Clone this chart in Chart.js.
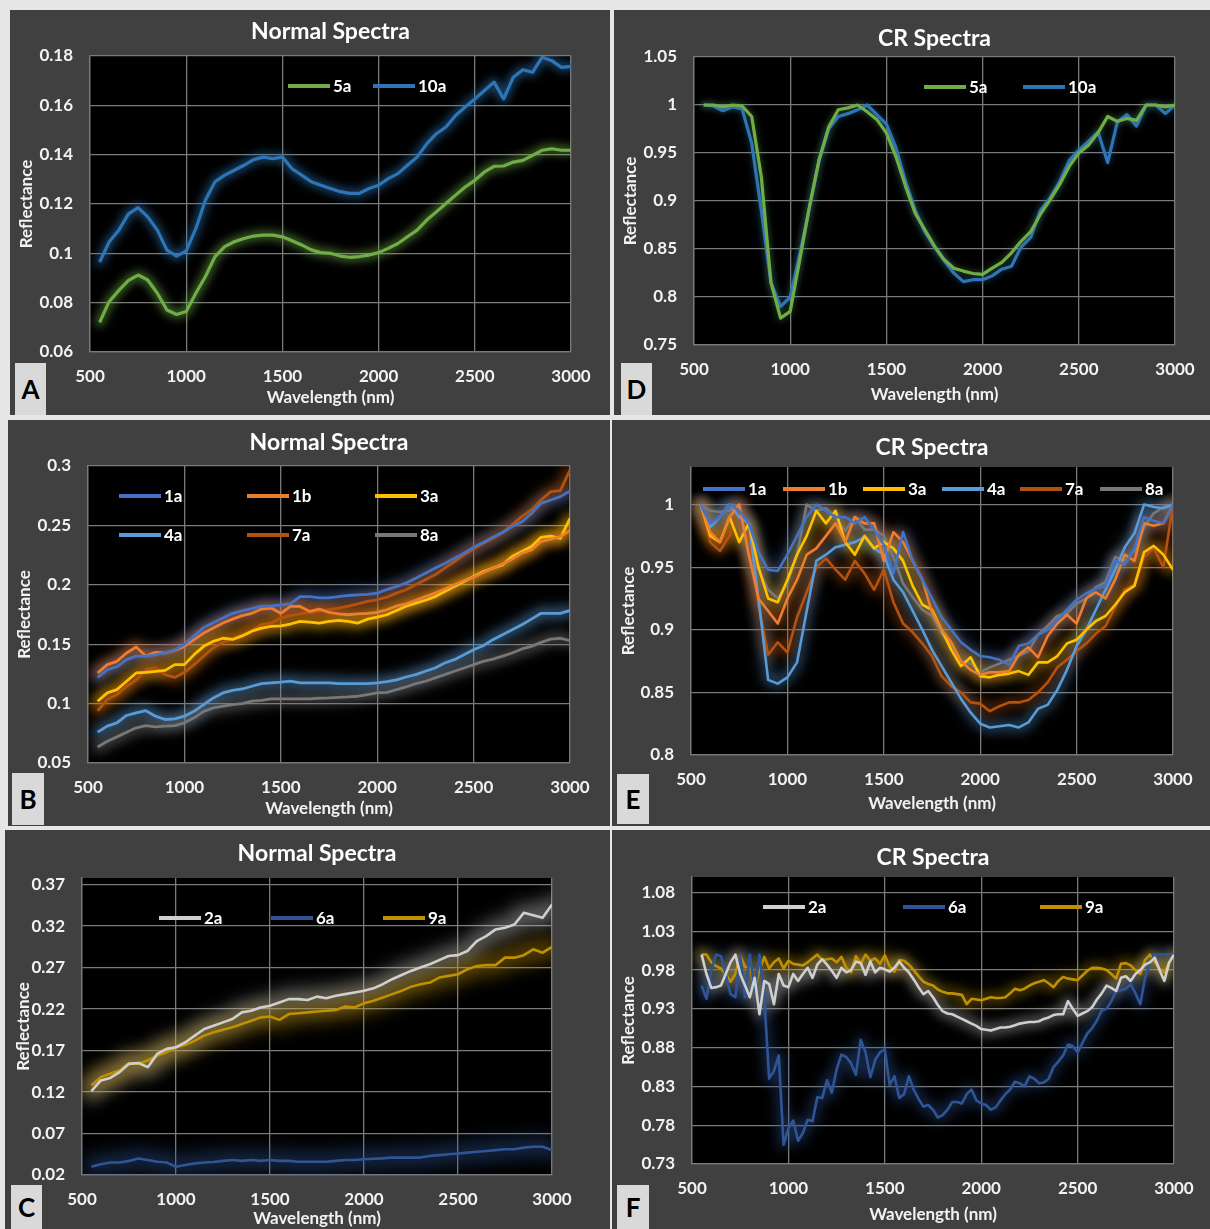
<!DOCTYPE html>
<html><head><meta charset="utf-8">
<script src="https://cdn.jsdelivr.net/npm/chart.js@4/dist/chart.umd.min.js"></script>
<style>
html,body{margin:0;padding:0;background:#e6e6e6;}
body{width:1210px;height:1229px;position:relative;overflow:hidden;}
.panel{position:absolute;background:#404040;}
.panel canvas{position:absolute;left:0;top:0;}
.tag{position:absolute;background:#d9d9d9;color:#000;font:bold 26px Lato,'Open Sans',sans-serif;display:flex;align-items:center;justify-content:center;}
</style></head><body>
<div class="panel" style="left:10px;top:10px;width:600px;height:405px"><canvas id="cA" width="600" height="405"></canvas></div>
<div class="panel" style="left:614px;top:10px;width:596px;height:405px"><canvas id="cD" width="596" height="405"></canvas></div>
<div class="panel" style="left:8px;top:420px;width:602px;height:406px"><canvas id="cB" width="602" height="406"></canvas></div>
<div class="panel" style="left:612px;top:420px;width:598px;height:406px"><canvas id="cE" width="598" height="406"></canvas></div>
<div class="panel" style="left:5px;top:830px;width:605px;height:399px"><canvas id="cC" width="605" height="399"></canvas></div>
<div class="panel" style="left:612px;top:830px;width:598px;height:399px"><canvas id="cF" width="598" height="399"></canvas></div>
<div class="tag" style="left:15px;top:363px;width:31px;height:52px">A</div>
<div class="tag" style="left:621px;top:363px;width:31px;height:52px">D</div>
<div class="tag" style="left:12px;top:773px;width:32px;height:52px">B</div>
<div class="tag" style="left:617px;top:774px;width:32px;height:50px">E</div>
<div class="tag" style="left:11px;top:1185px;width:31px;height:44px">C</div>
<div class="tag" style="left:617px;top:1185px;width:32px;height:44px">F</div>
<script>
// ---------- DATA ----------
const wl50 = [550,600,650,700,750,800,850,900,950,1000,
  1050,1100,1150,1200,1250,1300,1350,1400,1450,1500,
  1550,1600,1650,1700,1750,1800,1850,1900,1950,2000,
  2050,2100,2150,2200,2250,2300,2350,2400,2450,2500,
  2550,2600,2650,2700,2750,2800,2850,2900,2950,3000];
const wl25 = [550,575,600,625,650,675,700,725,750,775,
  800,825,850,875,900,925,950,975,1000,1025,
  1050,1075,1100,1125,1150,1175,1200,1225,1250,1275,
  1300,1325,1350,1375,1400,1425,1450,1475,1500,1525,
  1550,1575,1600,1625,1650,1675,1700,1725,1750,1775,
  1800,1825,1850,1875,1900,1925,1950,1975,2000,2025,
  2050,2075,2100,2125,2150,2175,2200,2225,2250,2275,
  2300,2325,2350,2375,2400,2425,2450,2475,2500,2525,
  2550,2575,2600,2625,2650,2675,2700,2725,2750,2775,
  2800,2825,2850,2875,2900,2925,2950,2975,3000];
const xTicks = [500,1000,1500,2000,2500,3000];
const yTicksA = [0.06,0.08,0.10,0.12,0.14,0.16,0.18];
const yTicksD = [0.75,0.80,0.85,0.90,0.95,1.00,1.05];
const yTicksB = [0.05,0.10,0.15,0.20,0.25,0.30];
const yTicksE = [0.80,0.85,0.90,0.95,1.00];
const yTicksC = [0.02,0.07,0.12,0.17,0.22,0.27,0.32,0.37];
const yTicksF = [0.73,0.78,0.83,0.88,0.93,0.98,1.03,1.08];

// Panel A (Normal) / D (CR): 5a, 10a
const A_5a = [0.072,0.0805,0.085,0.089,0.0912,0.0892,0.0838,0.077,0.0752,0.0764,
  0.0838,0.0906,0.0987,0.1027,0.1047,0.106,0.107,0.1074,0.1074,0.1067,
  0.1051,0.1034,0.1014,0.1003,0.100,0.0989,0.0984,0.0987,0.0993,0.1003,
  0.102,0.104,0.1067,0.1094,0.1135,0.1168,0.1202,0.1236,0.1269,0.1296,
  0.133,0.1353,0.1354,0.137,0.1377,0.1397,0.1418,0.1424,0.1418,0.1418];
const A_10a = [0.0965,0.1047,0.1094,0.116,0.1185,0.1148,0.1094,0.1013,0.0989,0.101,
  0.110,0.1216,0.129,0.1317,0.1337,0.1357,0.138,0.139,0.1384,0.139,
  0.1343,0.1317,0.129,0.1276,0.1263,0.125,0.1243,0.1243,0.1263,0.1276,
  0.1303,0.1323,0.1357,0.139,0.1444,0.1485,0.1512,0.1559,0.1593,0.1626,
  0.166,0.1694,0.1626,0.1714,0.1744,0.1734,0.1795,0.1781,0.1754,0.1758];
const D_5a = [1.0,1.0,0.998,1.0,0.999,0.988,0.925,0.815,0.778,0.785,
  0.839,0.894,0.943,0.977,0.995,0.997,1.0,0.993,0.985,0.971,
  0.946,0.915,0.887,0.870,0.853,0.839,0.830,0.827,0.8245,0.8235,
  0.830,0.836,0.846,0.858,0.868,0.886,0.901,0.917,0.936,0.950,
  0.958,0.971,0.988,0.983,0.986,0.984,1.0,1.0,0.998,1.0];
const D_10a = [1.0,0.999,0.994,0.998,0.996,0.96,0.89,0.815,0.79,0.80,
  0.845,0.893,0.942,0.975,0.988,0.991,0.995,1.0,0.99,0.98,
  0.955,0.92,0.89,0.868,0.852,0.838,0.825,0.816,0.818,0.818,
  0.822,0.829,0.832,0.852,0.862,0.89,0.903,0.92,0.942,0.953,
  0.962,0.972,0.94,0.982,0.99,0.978,1.0,1.0,0.991,1.0];

// Panel B (Normal) / E (CR): 1a, 1b, 3a, 4a, 7a, 8a
const B_1a = [0.122,0.1286,0.131,0.137,0.140,0.140,0.141,0.143,0.145,0.150,
  0.157,0.164,0.168,0.172,0.176,0.178,0.180,0.182,0.182,0.183,
  0.184,0.190,0.190,0.189,0.189,0.190,0.191,0.1915,0.192,0.193,
  0.196,0.1985,0.2015,0.2056,0.2098,0.214,0.218,0.2224,0.2266,0.2317,
  0.2356,0.240,0.244,0.249,0.253,0.260,0.2686,0.2714,0.2742,0.279];
const B_1b = [0.1258,0.1328,0.1356,0.1426,0.1476,0.140,0.1431,0.1426,0.1448,0.1482,
  0.1538,0.1594,0.1636,0.1678,0.1711,0.174,0.176,0.1796,0.1804,0.176,
  0.1818,0.1818,0.1776,0.1796,0.1768,0.1756,0.1748,0.1756,0.176,0.1768,
  0.179,0.182,0.184,0.187,0.190,0.193,0.1964,0.200,0.2036,0.2064,
  0.2104,0.214,0.2176,0.2216,0.2266,0.2294,0.2364,0.2384,0.2406,0.2457];
const B_3a = [0.102,0.109,0.1118,0.1188,0.1258,0.1263,0.1272,0.128,0.1328,0.1328,
  0.1412,0.1482,0.1524,0.155,0.154,0.157,0.161,0.1636,0.165,0.1655,
  0.167,0.1692,0.1686,0.1678,0.1692,0.170,0.1692,0.1678,0.1711,0.1728,
  0.1748,0.1784,0.182,0.1846,0.187,0.190,0.1944,0.1986,0.2028,0.207,
  0.2112,0.214,0.2168,0.2238,0.228,0.2322,0.240,0.241,0.239,0.256];
const B_4a = [0.076,0.081,0.0838,0.090,0.0922,0.094,0.0894,0.0866,0.0871,0.0894,
  0.0935,0.0992,0.1048,0.109,0.1112,0.1123,0.1146,0.1168,0.1174,0.118,
  0.119,0.1174,0.1174,0.1174,0.1174,0.1168,0.1168,0.1168,0.1168,0.1174,
  0.1185,0.120,0.1224,0.1244,0.1272,0.130,0.1342,0.137,0.1412,0.1454,
  0.1487,0.1538,0.158,0.1622,0.1664,0.1711,0.176,0.176,0.176,0.1784];
const B_7a = [0.094,0.1034,0.1076,0.1146,0.120,0.1286,0.130,0.1244,0.122,0.1263,
  0.1328,0.140,0.147,0.1515,0.155,0.158,0.1616,0.1664,0.1678,0.172,
  0.174,0.1756,0.1768,0.1776,0.179,0.1804,0.182,0.184,0.186,0.1874,
  0.1896,0.193,0.1958,0.200,0.2042,0.2084,0.214,0.2196,0.2252,0.230,
  0.235,0.2392,0.244,0.2504,0.2574,0.263,0.2714,0.2784,0.2793,0.2966];
const B_8a = [0.0635,0.0683,0.072,0.0759,0.0796,0.0815,0.0804,0.081,0.0815,0.0838,
  0.088,0.0935,0.0964,0.0978,0.0992,0.100,0.102,0.1028,0.104,0.104,
  0.104,0.104,0.104,0.1045,0.1048,0.1053,0.1056,0.1062,0.1076,0.109,
  0.1095,0.1118,0.114,0.1168,0.1188,0.1216,0.1244,0.1272,0.130,0.1328,
  0.1356,0.1375,0.140,0.1426,0.146,0.1482,0.1515,0.1543,0.155,0.153];
const E_1a = [1.0,0.985,0.99,1.0,0.995,0.985,0.962,0.948,0.947,0.96,
  0.975,0.99,1.0,0.995,0.99,0.99,0.985,0.99,0.98,0.968,
  0.945,0.978,0.955,0.94,0.925,0.91,0.9,0.89,0.884,0.879,
  0.878,0.876,0.872,0.887,0.889,0.896,0.9,0.908,0.916,0.924,
  0.929,0.933,0.935,0.955,0.952,0.965,0.99,0.987,0.985,1.0];
const E_1b = [1.0,0.978,0.97,0.99,1.0,0.96,0.925,0.915,0.905,0.925,
  0.94,0.96,0.965,0.975,0.985,0.97,0.99,0.985,0.985,0.955,
  0.978,0.97,0.955,0.94,0.914,0.9,0.89,0.875,0.868,0.864,
  0.866,0.866,0.867,0.88,0.886,0.878,0.895,0.905,0.912,0.905,
  0.925,0.93,0.925,0.94,0.96,0.955,0.985,0.983,0.985,1.0];
const E_3a = [1.0,0.975,0.97,0.99,0.97,0.985,0.95,0.925,0.922,0.94,
  0.96,0.975,0.995,0.985,0.995,0.97,0.96,0.975,0.965,0.97,
  0.965,0.955,0.935,0.92,0.916,0.9,0.884,0.871,0.878,0.863,
  0.862,0.864,0.865,0.867,0.864,0.874,0.874,0.879,0.889,0.892,
  0.9,0.907,0.911,0.92,0.93,0.935,0.962,0.967,0.96,0.948];
const E_4a = [1.0,0.982,0.99,1.0,0.99,0.985,0.925,0.86,0.857,0.862,
  0.874,0.915,0.955,0.96,0.966,0.968,0.97,0.974,0.965,0.96,
  0.94,0.93,0.915,0.9,0.884,0.871,0.858,0.845,0.834,0.825,
  0.822,0.823,0.824,0.822,0.826,0.837,0.84,0.852,0.868,0.887,
  0.9,0.916,0.932,0.948,0.966,0.977,1.0,0.998,0.997,1.0];
const E_7a = [1.0,0.97,0.963,0.975,1.0,0.975,0.92,0.88,0.89,0.882,
  0.91,0.93,0.95,0.957,0.948,0.94,0.955,0.945,0.932,0.948,
  0.922,0.905,0.898,0.889,0.879,0.863,0.855,0.85,0.842,0.841,
  0.835,0.839,0.842,0.842,0.844,0.85,0.858,0.87,0.876,0.883,
  0.889,0.897,0.903,0.918,0.932,0.936,0.958,0.965,0.95,1.0];
const E_8a = [1.0,0.995,0.994,0.995,1.0,0.96,0.948,0.932,0.925,0.937,
  0.96,1.0,0.995,0.997,0.99,0.979,0.99,0.98,0.98,0.975,
  0.958,0.937,0.926,0.916,0.911,0.897,0.887,0.875,0.873,0.866,
  0.87,0.873,0.876,0.879,0.883,0.896,0.903,0.911,0.913,0.921,
  0.925,0.934,0.938,0.958,0.955,0.963,0.982,0.993,0.998,1.0];

// Panel C (Normal) / F (CR): 2a, 6a, 9a
const C_2a = [0.121,0.134,0.137,0.144,0.154,0.155,0.150,0.166,0.172,0.174,
  0.180,0.188,0.196,0.200,0.204,0.208,0.216,0.218,0.222,0.224,
  0.228,0.232,0.232,0.231,0.235,0.233,0.236,0.238,0.240,0.242,
  0.245,0.250,0.256,0.261,0.266,0.270,0.274,0.279,0.284,0.285,
  0.290,0.302,0.308,0.316,0.318,0.322,0.336,0.333,0.330,0.346];
const C_6a = [0.030,0.033,0.035,0.035,0.037,0.040,0.038,0.036,0.035,0.030,
  0.032,0.034,0.035,0.0356,0.037,0.038,0.037,0.038,0.037,0.038,
  0.037,0.037,0.036,0.036,0.036,0.036,0.037,0.038,0.038,0.039,
  0.0396,0.040,0.041,0.041,0.041,0.041,0.043,0.044,0.045,0.046,
  0.047,0.048,0.049,0.050,0.051,0.051,0.053,0.054,0.054,0.050];
const C_9a = [0.128,0.138,0.142,0.146,0.155,0.154,0.158,0.164,0.168,0.174,
  0.177,0.182,0.188,0.192,0.195,0.198,0.202,0.206,0.210,0.211,
  0.207,0.214,0.215,0.216,0.217,0.218,0.219,0.223,0.222,0.227,
  0.230,0.234,0.238,0.242,0.247,0.250,0.252,0.258,0.260,0.262,
  0.268,0.272,0.273,0.273,0.282,0.282,0.285,0.292,0.288,0.295];
const F_2a = [1.0,0.975,0.957,0.958,0.96,0.975,0.99,1.0,0.975,0.96,
  0.945,0.97,0.923,0.966,0.962,0.936,0.975,0.96,0.958,0.975,
  0.966,0.975,0.983,0.97,0.987,0.994,0.987,0.979,0.97,0.983,
  0.977,0.98,0.991,0.989,0.974,0.991,0.977,0.983,0.981,0.978,
  0.983,0.991,0.983,0.977,0.968,0.958,0.949,0.953,0.945,0.935,
  0.927,0.924,0.923,0.92,0.917,0.914,0.911,0.908,0.904,0.903,
  0.902,0.904,0.906,0.906,0.907,0.909,0.911,0.912,0.913,0.913,
  0.914,0.917,0.919,0.922,0.923,0.923,0.94,0.93,0.921,0.924,
  0.927,0.932,0.942,0.95,0.96,0.957,0.953,0.97,0.972,0.966,
  0.975,0.98,0.987,0.99,0.996,0.98,0.966,0.99,1.0];
const F_6a = [0.96,0.943,0.98,1.0,0.998,0.975,0.949,0.945,1.0,0.945,
  1.0,0.953,1.0,0.945,0.84,0.85,0.87,0.755,0.776,0.786,
  0.76,0.77,0.787,0.785,0.816,0.815,0.838,0.822,0.852,0.871,
  0.868,0.86,0.845,0.89,0.874,0.842,0.864,0.874,0.878,0.832,
  0.843,0.815,0.82,0.843,0.826,0.814,0.804,0.806,0.8,0.79,
  0.793,0.8,0.81,0.81,0.808,0.82,0.826,0.812,0.808,0.806,
  0.8,0.803,0.812,0.82,0.826,0.836,0.834,0.83,0.843,0.84,
  0.834,0.835,0.84,0.855,0.862,0.87,0.884,0.882,0.874,0.886,
  0.898,0.905,0.915,0.928,0.93,0.94,0.953,0.954,0.956,0.962,
  0.95,0.936,0.97,0.99,1.0,1.0,1.0,1.0,1.0];
const F_9a = [1.0,1.0,0.99,0.985,0.982,0.975,0.965,0.975,0.999,0.984,
  0.984,0.958,0.98,0.997,0.982,0.99,0.995,0.982,0.992,0.988,
  0.987,0.986,0.99,0.995,1.0,0.993,0.994,0.995,0.99,0.997,
  0.983,0.977,0.998,0.988,1.0,0.992,0.995,0.988,0.999,0.985,
  0.978,0.993,0.992,0.987,0.98,0.972,0.965,0.962,0.96,0.955,
  0.952,0.95,0.95,0.949,0.948,0.936,0.943,0.942,0.941,0.943,
  0.945,0.944,0.944,0.945,0.95,0.956,0.954,0.956,0.96,0.963,
  0.965,0.967,0.963,0.958,0.966,0.971,0.969,0.968,0.967,0.973,
  0.979,0.983,0.983,0.982,0.98,0.975,0.969,0.988,0.989,0.986,
  0.98,0.975,0.993,1.0,0.99,0.982,0.977,0.99,1.0];

// ---------- STYLE ----------
const FAM = "Lato, 'Open Sans', sans-serif";
const TITLE_SIZE = 23, AXT_SIZE = 17, TICK_SIZE = 17, LEG_SIZE = 17;
const COL = {
  '5a':'#70AD47','10a':'#2E75B6',
  '1a':'#4472C4','1b':'#ED7D31','3a':'#FFC000','4a':'#5B9BD5','7a':'#B3530F','8a':'#787878',
  '2a':'#CFCFCF','6a':'#2F5597','9a':'#BF9000'
};
function rgba(hex,a){const n=parseInt(hex.slice(1),16);return `rgba(${n>>16},${(n>>8)&255},${n&255},${a})`;}

const plotBg = {id:'plotBg', beforeDraw(c){const a=c.chartArea,ctx=c.ctx;ctx.save();ctx.fillStyle='#000';ctx.fillRect(a.left,a.top,a.right-a.left,a.bottom-a.top);ctx.restore();}};
// soft glow under each line, traced through the points the library placed
const glow = {id:'glow',
  beforeDatasetsDraw(c,args,opts){
    const ctx=c.ctx,a=c.chartArea;
    ctx.save();ctx.beginPath();ctx.rect(a.left,a.top,a.right-a.left,a.bottom-a.top);ctx.clip();
    ctx.filter=`blur(${opts.blur}px)`;ctx.lineJoin='round';ctx.lineCap='round';
    c.data.datasets.forEach((ds,i)=>{
      const pts=c.getDatasetMeta(i).data;
      ctx.strokeStyle=rgba(ds.borderColor,opts.alpha);ctx.lineWidth=opts.width;
      ctx.beginPath();pts.forEach((p,k)=>k?ctx.lineTo(p.x,p.y):ctx.moveTo(p.x,p.y));ctx.stroke();
    });
    ctx.restore();
  }};
const inLegend = {id:'inLegend', afterDraw(c,args,opts){
  const ctx=c.ctx;ctx.save();ctx.font=`bold ${LEG_SIZE}px ${FAM}`;ctx.textBaseline='middle';ctx.lineCap='butt';
  c.data.datasets.forEach((ds,i)=>{const p=opts.pos[i];if(!p)return;
    ctx.strokeStyle=ds.borderColor;ctx.lineWidth=4;ctx.beginPath();ctx.moveTo(p[0],p[1]);ctx.lineTo(p[0]+42,p[1]);ctx.stroke();
    ctx.fillStyle='#ffffff';ctx.fillText(ds.label,p[0]+45,p[1]+1);});
  ctx.restore();}};

const fmtY = v => String(+Number(v).toFixed(2));
const fmtX = v => String(Math.round(v));

function build(id, g, xs, series, yMin, yMax, yTicks, legendPos, titleText, lw, glowOpts){
  const relT=g.t-g.py, relR=g.px+g.pw-g.r, relB=g.py+g.ph-g.b, relL=g.l-g.px;
  const tY=g.titleY-g.py, th=TITLE_SIZE*0.6, ah=AXT_SIZE*0.6;
  const gridCol='#7a7a7a';
  new Chart(document.getElementById(id),{
    type:'line',
    data:{datasets:series.map(s=>({label:s.label,data:xs.map((x,i)=>({x:x,y:s.values[i]})),
      borderColor:COL[s.label],backgroundColor:COL[s.label],borderWidth:lw,pointRadius:0,tension:0,fill:false,borderJoinStyle:'round'}))},
    options:{responsive:false,animation:false,devicePixelRatio:1,
      layout:{padding:{left:0,top:0,right:relR,bottom:0}},
      plugins:{legend:{display:false},tooltip:{enabled:false},
        title:{display:true,text:titleText,color:'#ffffff',fullSize:false,font:{family:FAM,size:TITLE_SIZE,weight:'bold'},
          padding:{top:tY-th,bottom:relT-tY-th}},
        inLegend:{pos:legendPos},
        glow:glowOpts},
      scales:{
        x:{type:'linear',min:500,max:3000,
          afterBuildTicks:s=>{s.ticks=xTicks.map(v=>({value:v}));},
          afterFit:s=>{s.height=relB;},
          ticks:{color:'#f2f2f2',font:{family:FAM,size:TICK_SIZE,weight:'bold'},padding:14,maxRotation:0,autoSkip:false,callback:fmtX},
          grid:{color:gridCol,lineWidth:1.3,drawTicks:false},
          border:{color:gridCol,width:1.3},
          title:{display:true,text:'Wavelength (nm)',color:'#f2f2f2',font:{family:FAM,size:AXT_SIZE,weight:'bold'},
            padding:{top:0,bottom:(g.py+g.ph-g.xTitleY)-ah}}},
        y:{type:'linear',min:yMin,max:yMax,
          afterBuildTicks:s=>{s.ticks=yTicks.map(v=>({value:v}));},
          afterFit:s=>{s.width=relL;},
          ticks:{color:'#f2f2f2',font:{family:FAM,size:TICK_SIZE,weight:'bold'},padding:17,callback:fmtY},
          grid:{color:gridCol,lineWidth:1.3,drawTicks:false},
          border:{color:gridCol,width:1.3},
          title:{display:true,text:'Reflectance',color:'#f2f2f2',font:{family:FAM,size:AXT_SIZE,weight:'bold'},
            padding:{top:(g.yTitleX-g.px)-ah,bottom:0}}}
      }},
    plugins:[plotBg,glow,inLegend]
  });
}

const G = {
  A:{px:10,py:10,pw:600,ph:405,l:90,t:56,r:571,b:352,titleY:32,yTitleX:27,xTitleY:398},
  D:{px:614,py:10,pw:596,ph:405,l:694,t:57,r:1175,b:345,titleY:39,yTitleX:631,xTitleY:395},
  B:{px:8,py:420,pw:602,ph:406,l:88,t:466,r:570,b:763,titleY:443,yTitleX:25,xTitleY:809},
  E:{px:612,py:420,pw:598,ph:406,l:691,t:467,r:1173,b:755,titleY:448,yTitleX:629,xTitleY:804},
  C:{px:5,py:830,pw:605,ph:399,l:82,t:878,r:552,b:1175,titleY:854,yTitleX:24,xTitleY:1219},
  F:{px:612,py:830,pw:598,ph:399,l:692,t:877,r:1174,b:1164,titleY:858,yTitleX:629,xTitleY:1215}
};

build('cA',G.A,wl50,[{label:'5a',values:A_5a},{label:'10a',values:A_10a}],0.06,0.18,yTicksA,
  [[278,76],[363,76]],'Normal Spectra',3.2,{blur:4,width:9,alpha:0.55});
build('cD',G.D,wl50,[{label:'5a',values:D_5a},{label:'10a',values:D_10a}],0.75,1.05,yTicksD,
  [[310,77],[409,77]],'CR Spectra',3.2,{blur:3,width:6,alpha:0.3});
build('cB',G.B,wl50,[{label:'1a',values:B_1a},{label:'1b',values:B_1b},{label:'3a',values:B_3a},
  {label:'4a',values:B_4a},{label:'7a',values:B_7a},{label:'8a',values:B_8a}],0.05,0.30,yTicksB,
  [[111,76],[239,76],[367,76],[111,115],[239,115],[367,115]],'Normal Spectra',2.8,{blur:6,width:12,alpha:0.55});
build('cE',G.E,wl50,[{label:'1a',values:E_1a},{label:'1b',values:E_1b},{label:'3a',values:E_3a},
  {label:'4a',values:E_4a},{label:'7a',values:E_7a},{label:'8a',values:E_8a}],0.80,1.03,yTicksE,
  [[91,69],[171,69],[251,69],[330,69],[408,69],[488,69]],'CR Spectra',2.6,{blur:6,width:10,alpha:0.45});
build('cC',G.C,wl50,[{label:'2a',values:C_2a},{label:'6a',values:C_6a},{label:'9a',values:C_9a}],0.02,0.378,yTicksC,
  [[154,88],[266,88],[378,88]],'Normal Spectra',2.6,{blur:9,width:18,alpha:0.5});
build('cF',G.F,wl25,[{label:'2a',values:F_2a},{label:'6a',values:F_6a},{label:'9a',values:F_9a}],0.73,1.10,yTicksF,
  [[151,77],[291,77],[428,77]],'CR Spectra',2.6,{blur:6,width:10,alpha:0.45});
</script>
</body></html>
